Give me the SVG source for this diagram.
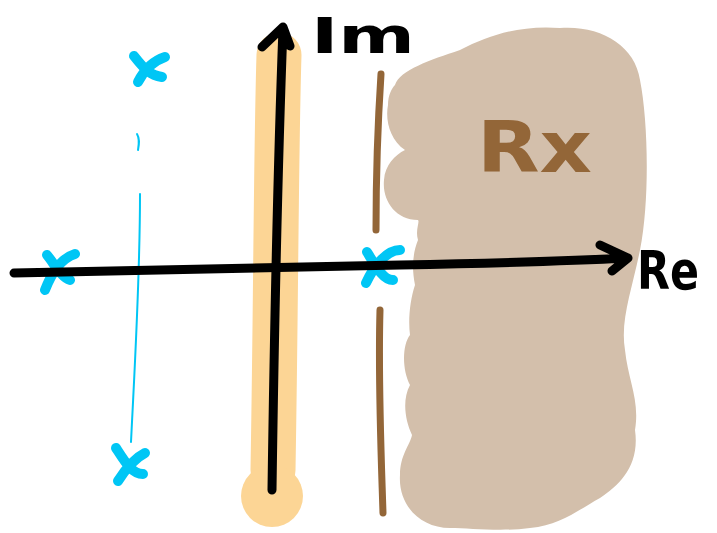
<svg xmlns="http://www.w3.org/2000/svg" width="717" height="533" viewBox="0 0 717 533">
<style>
.ink{fill:none;stroke:#000;stroke-width:9;stroke-linecap:round;stroke-linejoin:round}
.cross{fill:none;stroke:#00c6f5;stroke-width:10;stroke-linecap:round;stroke-linejoin:round}
.thin{fill:none;stroke:#00c6f5;stroke-width:2;stroke-linecap:round}
.brown{fill:none;stroke:#936638;stroke-width:7;stroke-linecap:round}
.hand{font-family:"DejaVu Sans",sans-serif;font-weight:bold}
</style>
<rect width="717" height="533" fill="#fff"/>
<g id="region">
<path fill="#d3bfab" d="M395,85 C400,70 430,60 460,50 C490,35 520,25 560,28 C600,25 635,45 640,80 C648,120 650,200 640,250 C632,290 620,320 625,350 C628,380 640,400 635,430 C640,465 620,485 600,498 C575,512 560,525 530,528 C500,532 470,528 450,528 C420,528 398,505 400,475 C400,455 410,445 412,435 C405,420 402,400 410,385 C402,370 402,345 410,335 C408,320 410,300 415,285 C412,270 412,255 418,240 C415,230 420,222 418,220 C395,220 382,200 384,180 C385,165 395,155 405,150 C390,140 385,120 388,105 C388,95 392,88 395,85 Z"/>
<text class="hand" x="477" y="172" font-size="72" fill="#936638" textLength="115" lengthAdjust="spacingAndGlyphs">Rx</text>
</g>
<g id="band">
<path d="M279,55 C276,150 276,300 273,470" fill="none" stroke="#fcd595" stroke-width="45" stroke-linecap="round"/>
<circle cx="272" cy="496" r="31" fill="#fcd595"/>
</g>
<g id="boundary">
<path class="brown" d="M381,74 C378,120 376,180 376,230"/>
<path class="brown" d="M380,310 C378,380 381,450 383,513"/>
</g>
<g id="poles">
<path class="cross" d="M134,56 C145,70 150,75 162,77 M165,57 C150,62 143,72 138,82"/>
<path class="thin" d="M137,134 C140,139 139,144 138,150"/>
<path class="thin" d="M140,194 C140,280 135,360 131,442"/>
<path class="cross" d="M116,448 C125,462 132,474 143,474 M145,453 C135,458 125,470 118,481"/>
<path class="cross" d="M47,255 C55,265 62,278 70,280 M75,254 C62,258 52,272 45,290"/>
<path class="cross" d="M367,252 C375,265 383,280 393,280 M400,250 C385,250 372,270 366,283"/>
</g>
<g id="axes">
<path class="ink" d="M14,273 C120,271 250,268 400,265 C500,263 570,261 628,258 M600,245 L628,258 L612,271"/>
<path class="ink" d="M272,490 C274,350 278,160 283,28 M262,47 L283,27 L290,46"/>
</g>
<g id="labels">
<text class="hand" x="311" y="53" font-size="50" fill="#000" textLength="104" lengthAdjust="spacingAndGlyphs">Im</text>
<text class="hand" x="637" y="289" font-size="54" fill="#000" textLength="62" lengthAdjust="spacingAndGlyphs">Re</text>
</g>
</svg>
